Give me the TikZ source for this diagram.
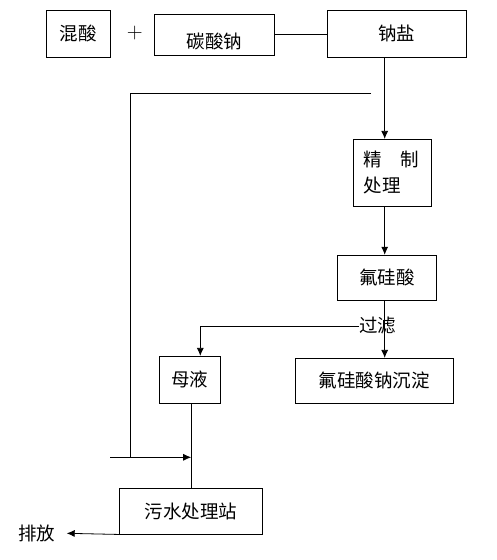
\documentclass[tikz,border=0pt]{standalone}
\usepackage{fontspec}
\usepackage{tikz}
\usetikzlibrary{arrows.meta}
\newfontfamily\cjk{Noto Sans CJK SC}

\begin{document}
\begin{tikzpicture}[x=1pt,y=-1pt,
    every node/.style={font=\cjk\fontsize{18.5}{26}\selectfont, inner sep=0pt},
    box/.style={draw, line width=.8pt},
    ln/.style={line width=.8pt},
    arr/.style={line width=.8pt, -{Latex[length=8pt,width=7pt]}}]
    \useasboundingbox (0,0) rectangle (497,560);

    \node[box, minimum width=64, minimum height=47] (hs) at (78.3,33.8) {混酸};
    \node[font=\normalfont\fontsize{22}{22}\selectfont] (plus) at (134.7,33) {+};
    \node[box, minimum width=120, minimum height=41] (tsn) at (214.3,34.8)
        {\raisebox{-7pt}[\height][\depth]{碳酸钠}\hspace{22pt}};
    \node[box, minimum width=139, minimum height=47] (ny) at (396.8,33.8) {钠盐};
    \node[box, minimum width=77.6, minimum height=67, text width=58, align=left]
        (jz) at (392.5,172.8) {精\quad 制\\处理};
    \node[box, minimum width=99, minimum height=45] (fgs) at (386.8,277.7) {氟硅酸};
    \node (glv) at (377.7,326) {过滤};
    \node[box, minimum width=61, minimum height=47] (my) at (189.8,379.8) {母液};
    \node[box, minimum width=158, minimum height=45] (cd) at (374.3,380.8) {氟硅酸钠沉淀};
    \node[box, minimum width=143, minimum height=45.7] (ws) at (190.8,511.2) {污水处理站};
    \node[anchor=east, inner xsep=11pt] (pf) at (66.7,533.3) {排放};

    \coordinate (mid) at (384.7,0);
    \coordinate (back) at (371,93.3);
    \coordinate (bend) at (130.3,93.3);
    \coordinate (feed) at (110,457.3);
    \coordinate (turn) at (200.3,326);
    \coordinate (drain) at (191.2,0);

    \draw[ln] (tsn.east) -- (tsn.east -| ny.west);
    \draw[arr] (ny.south -| mid) -- (jz.north -| mid);
    \draw[arr] (jz.south -| mid) -- (fgs.north -| mid);
    \draw[arr] (fgs.south -| mid) -- (cd.north -| mid);
    \draw[arr] (glv.west) -- (turn) -- (turn |- my.north);
    \draw[ln] (back) -- (bend) -- (bend |- feed);
    \draw[arr] (feed) -- (feed -| drain);
    \draw[ln] (my.south -| drain) -- (ws.north -| drain);
    \draw[arr] (ws.south west) -- (pf.east);
    %\draw[red] (0,0) grid[step=50] (497,560);

\end{tikzpicture}
\end{document}
